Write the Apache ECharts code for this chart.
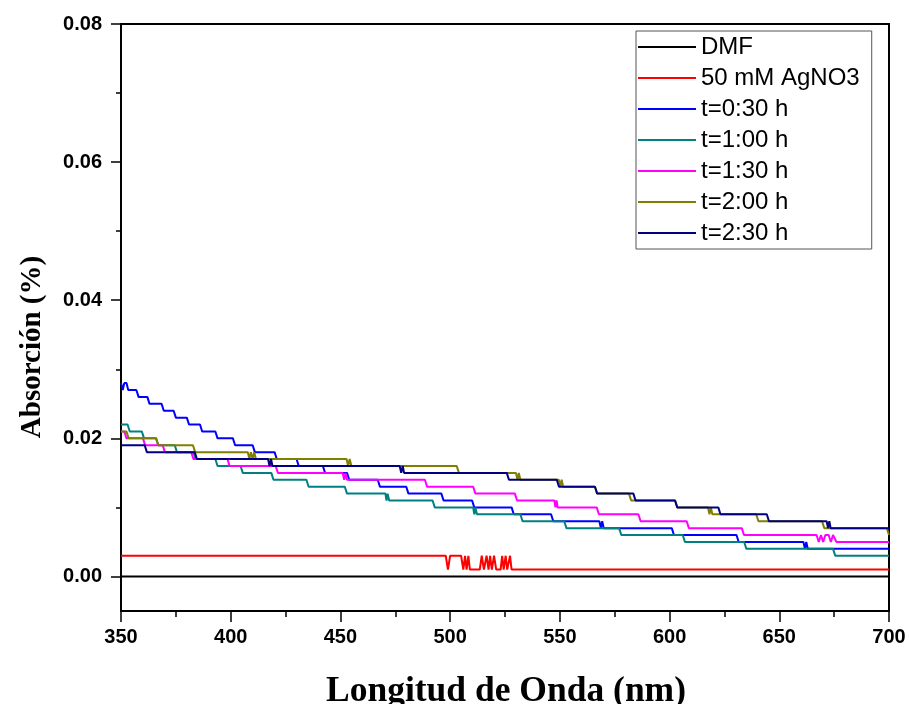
<!DOCTYPE html>
<html>
<head>
<meta charset="utf-8">
<script src="https://cdn.jsdelivr.net/npm/echarts@6/dist/echarts.min.js"></script>
<style>
html,body{margin:0;padding:0;background:#fff;}
#chart{width:909px;height:704px;}
</style>
</head>
<body>
<div id="chart"></div>
<script>
// ---- data (wavelength nm, absorbance) ----
const seriesNames = ['DMF', '50 mM AgNO3', 't=0:30 h', 't=1:00 h', 't=1:30 h', 't=2:00 h', 't=2:30 h'];
const seriesColors = ['#000000', '#FF0000', '#0000FF', '#008080', '#FF00FF', '#808000', '#000080'];

const dmf = [[350, 0], [700, 0]];

const agno3 = [[350,0.003],[498,0.003],[499,0.001],[500,0.003],[505,0.003],[506,0.001],[506.8,0.003],[507.5,0.001],[508.3,0.003],[509,0.001],
  [513.5,0.001],[514.4,0.003],[515.4,0.001],[516.6,0.003],[517.5,0.001],[518.2,0.003],[519,0.001],[520,0.003],[521,0.001],[523,0.001],
  [523.7,0.003],[524.4,0.001],[525.3,0.003],[526,0.001],[527.3,0.003],[528,0.001],[700,0.001]];

const t030 = [[350,0.028],[350.8,0.027],[351.5,0.028],[352.5,0.028],[353.3,0.027],[357,0.027],[358,0.026],[362,0.026],[363,0.025],
  [368.5,0.025],[369.5,0.024],[374,0.024],[375,0.023],[380,0.023],[381,0.022],[386,0.022],[387,0.021],[393,0.021],[394,0.020],
  [401,0.020],[402,0.019],[410,0.019],[411,0.018],[420,0.018],[421,0.017],[430,0.017],[431,0.016],[442,0.016],[443,0.015],
  [453,0.015],[454,0.014],[467,0.014],[468,0.013],[480,0.013],[481,0.012],[496,0.012],[497,0.011],[510,0.011],[511,0.010],
  [528,0.010],[529,0.009],[546,0.009],[547,0.008],[568,0.008],[568.7,0.007],[569.3,0.008],[570,0.007],[601,0.007],[602,0.006],
  [630.5,0.006],[631.5,0.005],[661,0.005],[661.7,0.004],[662.3,0.005],[663,0.004],[700,0.004]];

const t100 = [[350,0.022],[353,0.022],[354,0.021],[359.5,0.021],[360.5,0.020],[366,0.020],[367,0.019],[374.5,0.019],[375.5,0.018],
  [383,0.018],[384,0.017],[393,0.017],[394,0.016],[404.5,0.016],[405.5,0.015],[418.5,0.015],[419.5,0.014],[434.5,0.014],[435.5,0.013],
  [452,0.013],[453,0.012],[470.5,0.012],[471,0.011],[471.5,0.012],[472.2,0.011],[492,0.011],[493,0.010],[510.5,0.010],[511,0.009],
  [511.5,0.010],[512.2,0.009],[532,0.009],[533,0.008],[552,0.008],[553,0.007],[577,0.007],[578,0.006],[606,0.006],[607,0.005],
  [634,0.005],[635,0.004],[674.5,0.004],[675.5,0.003],[700,0.003]];

const t130 = [[350,0.021],[351.5,0.021],[352.5,0.020],[360,0.020],[361,0.019],[369,0.019],[370,0.018],[382,0.018],[383,0.017],
  [398.5,0.017],[399.5,0.016],[420.5,0.016],[421.5,0.015],[451,0.015],[451.7,0.014],[452.3,0.015],[453,0.014],[488.5,0.014],
  [489.5,0.013],[510.5,0.013],[511.5,0.012],[529.5,0.012],[530.5,0.011],[547.5,0.011],[548,0.010],[548.5,0.011],[549,0.010],
  [566.8,0.010],[567.8,0.009],[585.8,0.009],[586.8,0.008],[607.8,0.008],[608.8,0.007],[632.9,0.007],[633.9,0.006],[667,0.006],
  [668,0.005],[669,0.006],[670,0.005],[671,0.006],[672.5,0.006],[673.5,0.005],[674.5,0.006],[675,0.006],[676,0.005],[700,0.005]];

const t200 = [[350,0.021],[352.5,0.021],[353.5,0.020],[366,0.020],[367,0.019],[382.8,0.019],[383.8,0.018],[407.8,0.018],[408.5,0.017],
  [409.2,0.018],[410,0.017],[410.7,0.018],[411.5,0.017],[452.8,0.017],[453.5,0.016],[454.2,0.017],[455,0.016],[503,0.016],[504,0.015],
  [530,0.015],[530.7,0.014],[531.3,0.015],[532,0.014],[549.5,0.014],[550.2,0.013],[550.8,0.014],[551.5,0.013],[566,0.013],[567,0.012],
  [581.5,0.012],[582.5,0.011],[602.5,0.011],[603.5,0.010],[617.5,0.010],[618.2,0.009],[618.8,0.010],[619.5,0.009],[639.5,0.009],
  [640.5,0.008],[669.5,0.008],[670.5,0.007],[699,0.007],[700,0.006]];

const t230 = [[350,0.019],[360.8,0.019],[361.8,0.018],[383.6,0.018],[384.6,0.017],[417,0.017],[417.7,0.016],[418.4,0.017],[419,0.016],
  [477,0.016],[477.7,0.015],[478.4,0.016],[479,0.015],[525.8,0.015],[526.8,0.014],[548.6,0.014],[549.6,0.013],[566,0.013],[567,0.012],
  [583.5,0.012],[584.5,0.011],[602.5,0.011],[603.5,0.010],[622.2,0.010],[623.2,0.009],[644.3,0.009],[645.3,0.008],[671.6,0.008],
  [672.2,0.007],[672.8,0.008],[673.4,0.007],[700,0.007]];

const seriesData = [dmf, agno3, t030, t100, t130, t200, t230];

const xTicks = [350, 400, 450, 500, 550, 600, 650, 700];
const yMajorTicks = [0, 0.02, 0.04, 0.06, 0.08];
const yMinorTicks = [0.01, 0.03, 0.05, 0.07];

// ---- chart ----
const chart = echarts.init(document.getElementById('chart'), null, {renderer: 'canvas'});
const labelFont = {fontFamily: 'Liberation Sans', fontWeight: 'bold', fontSize: 20, color: '#000'};

const option = {
  animation: false,
  backgroundColor: '#fff',
  grid: {left: 121, top: 24, width: 768, height: 587, show: true, borderColor: '#000', borderWidth: 2, backgroundColor: 'transparent'},
  legend: {
    orient: 'vertical', left: 636, top: 31,
    data: seriesNames.map((n, i) => ({name: n, icon: 'rect', itemStyle: {color: seriesColors[i]}})),
    itemWidth: 58, itemHeight: 2, itemGap: 7,
    padding: [4, 12, 4, 2],
    borderColor: '#555', borderWidth: 1,
    textStyle: {fontFamily: 'Liberation Sans', fontSize: 24, color: '#000', lineHeight: 24},
    selectedMode: false
  },
  xAxis: {
    type: 'value', min: xTicks[0], max: xTicks[xTicks.length - 1], interval: 50,
    axisLine: {show: true, onZero: false, lineStyle: {color: '#000', width: 2}},
    axisTick: {show: true, inside: false, length: 11, lineStyle: {color: '#000', width: 1.5}},
    minorTick: {show: true, splitNumber: 2, length: 6, lineStyle: {color: '#000', width: 1.5}},
    splitLine: {show: false},
    axisLabel: Object.assign({margin: 16}, labelFont)
  },
  yAxis: [
    {
      type: 'value', min: -0.005, max: 0.08, position: 'left',
      axisLine: {show: true, onZero: false, lineStyle: {color: '#000', width: 2}},
      axisTick: {show: true, inside: false, length: 10, customValues: yMajorTicks, lineStyle: {color: '#000', width: 1.5}},
      splitLine: {show: false},
      axisLabel: Object.assign({margin: 19, customValues: yMajorTicks, formatter: v => v.toFixed(2)}, labelFont)
    },
    {
      type: 'value', min: -0.005, max: 0.08, position: 'left', offset: 0,
      axisLine: {show: false},
      axisTick: {show: true, inside: false, length: 5, customValues: yMinorTicks, lineStyle: {color: '#000', width: 1.5}},
      splitLine: {show: false},
      axisLabel: {show: false}
    }
  ],
  graphic: [
    {type: 'text', x: 506, y: 692, style: {text: 'Longitud de Onda (nm)', font: 'bold 35.5px "Liberation Serif"', fill: '#000', textAlign: 'center', textVerticalAlign: 'middle'}},
    {type: 'text', x: 33, y: 347, rotation: Math.PI / 2, style: {text: 'Absorción (%)', font: 'bold 29px "Liberation Serif"', fill: '#000', textAlign: 'center', textVerticalAlign: 'middle'}}
  ],
  series: seriesNames.map((name, i) => ({
    name: name,
    type: 'line',
    data: seriesData[i],
    yAxisIndex: 0,
    symbol: 'none',
    showSymbol: false,
    clip: true,
    color: seriesColors[i],
    lineStyle: {color: seriesColors[i], width: 2},
    z: 2 + i
  }))
};
chart.setOption(option);
</script>
</body>
</html>
